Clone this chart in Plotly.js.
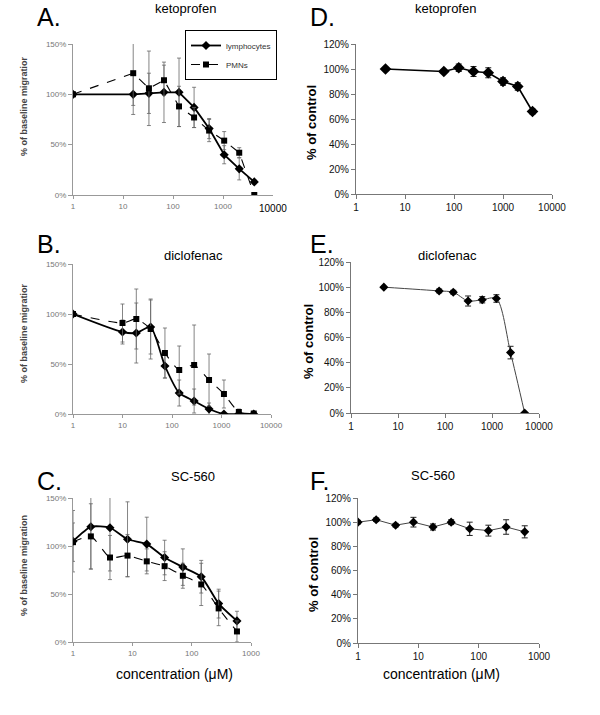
<!DOCTYPE html>
<html>
<head>
<meta charset="utf-8">
<script src="https://cdn.plot.ly/plotly-3.0.1.min.js"></script>
<style>
  body { margin: 0; background: #fff; }
  #fig { width: 600px; height: 715px; }
</style>
</head>
<body>
<div id="fig"></div>
<script>
// ketoprofen - migration (A)
var ketoConcA = [1, 16, 33, 66, 132, 264, 528, 1056, 2112, 4224];
var ketoLymph = [100, 100, 101, 102, 102, 87, 66, 40, 26, 13];
var ketoLymphErr = [0, 20, 20, 30, 34, 20, 10, 9, 11, 2];
var ketoPmn = [100, 121, 106, 114, 88, 77, 64, 54, 42, 0];
var ketoPmnErr = [0, 32, 37, 15, 20, 10, 11, 9, 5, 0];

// diclofenac - migration (B)
var dicloConcB = [1, 10, 19, 37, 72, 140, 280, 560, 1120, 2240, 4480];
var dicloLymph = [100, 82, 81, 87, 48, 21, 13, 5, 0, 0, 0];
var dicloLymphErr = [0, 12, 30, 27, 12, 13, 12, 6, 0, 0, 0];
var dicloPmn = [100, 91, 95, 85, 61, 44, 49, 34, 20, 2, 0.5];
var dicloPmnErr = [0, 19, 30, 30, 25, 24, 40, 26, 14, 3, 0];

// SC-560 - migration (C)
var scConc = [1, 2, 4.2, 8.3, 17.5, 35, 71, 145, 285, 580];
var scLymph = [105, 120, 119, 107, 102, 88, 78, 68, 40, 22];
var scLymphErr = [32, 44, 45, 39, 28, 18, 19, 17, 15, 10];
var scPmn = [104, 110, 88, 90, 84, 79, 69, 60, 35, 11];
var scPmnErr = [20, 34, 23, 22, 13, 15, 13, 22, 18, 11];

// viability (D, E, F)
var ketoConcD = [4, 62, 125, 250, 500, 1000, 2000, 4000];
var ketoViab = [100, 98, 101, 98, 97, 90, 86, 66];
var ketoViabErr = [1, 1.5, 3, 4, 4, 3, 3, 2];

var dicloConcE = [5, 75, 150, 310, 620, 1240, 2480, 4950];
var dicloViab = [100, 97, 96, 89, 90, 91, 48, 0];
var dicloViabErr = [0.5, 1.5, 1.5, 4, 2.5, 3, 5, 0];

var scViab = [100, 102, 97.5, 100, 96, 100, 94.5, 93, 96, 92];
var scViabErr = [1.5, 1.5, 1.5, 4, 2.5, 2, 5.5, 4.5, 6, 5];

var logTicks = [1, 10, 100, 1000, 10000];

function px(x) { return x / 600; }
function py(y) { return 1 - y / 715; }

function migLine(x, y, err, name, ax, dash, sym, shape, legend) {
    return {
        x: x, y: y, xaxis: 'x' + ax, yaxis: 'y' + ax,
        type: 'scatter', mode: 'lines+markers', name: name,
        showlegend: legend,
        line: { color: '#000', width: dash == 'solid' ? 1.8 : 1.1, dash: dash, shape: shape, smoothing: 0.6 },
        marker: { symbol: sym, size: sym == 'diamond' ? 7 : 6, color: '#000' },
        error_y: { type: 'data', array: err, visible: true, color: '#666', thickness: 0.8, width: 2 }
    };
}

function viabLine(x, y, err, ax, lw, lc, shape, msize) {
    return {
        x: x, y: y, xaxis: 'x' + ax, yaxis: 'y' + ax,
        type: 'scatter', mode: 'lines+markers', showlegend: false,
        line: { color: lc, width: lw, shape: shape, smoothing: 0.8 },
        marker: { symbol: 'diamond', size: msize, color: '#000' },
        error_y: { type: 'data', array: err, visible: true, color: '#222', thickness: 1, width: 3 }
    };
}

var data = [
    migLine(ketoConcA, ketoLymph, ketoLymphErr, 'lymphocytes', '', 'solid', 'diamond', 'linear', true),
    migLine(ketoConcA, ketoPmn, ketoPmnErr, 'PMNs', '', 'dash', 'square', 'linear', true),
    viabLine(ketoConcD, ketoViab, ketoViabErr, '2', 1.6, '#000', 'linear', 9),
    migLine(dicloConcB, dicloLymph, dicloLymphErr, 'lymphocytes', '3', 'solid', 'diamond', 'spline', false),
    migLine(dicloConcB, dicloPmn, dicloPmnErr, 'PMNs', '3', 'dash', 'square', 'spline', false),
    viabLine(dicloConcE, dicloViab, dicloViabErr, '4', 1, '#444', 'spline', 7),
    migLine(scConc, scLymph, scLymphErr, 'lymphocytes', '5', 'solid', 'diamond', 'spline', false),
    migLine(scConc, scPmn, scPmnErr, 'PMNs', '5', 'dash', 'square', 'spline', false),
    viabLine(scConc, scViab, scViabErr, '6', 1, '#444', 'linear', 7)
];

function leftX(x0, x1, anchor, hi, ticks) {
    return {
        domain: [px(x0), px(x1)], anchor: anchor, type: 'log', range: [0, hi],
        tickvals: ticks, ticktext: ticks.map(String),
        showline: true, linecolor: '#999', linewidth: 1, ticks: 'outside', ticklen: 3, tickcolor: '#999',
        showgrid: false, zeroline: false,
        tickfont: { family: 'Liberation Sans, Arial', size: 8, color: '#777' }
    };
}
function leftY(y0, y1, anchor) {
    return {
        domain: [py(y1), py(y0)], anchor: anchor, range: [0, 150], dtick: 50, ticksuffix: '%',
        showline: true, linecolor: '#999', linewidth: 1, ticks: 'outside', ticklen: 4, tickcolor: '#999',
        showgrid: false, zeroline: false,
        tickfont: { family: 'Liberation Sans, Arial', size: 8, color: '#777' }
    };
}
function rightX(x0, x1, anchor, hi, ticks) {
    return {
        domain: [px(x0), px(x1)], anchor: anchor, type: 'log', range: [0, hi],
        tickvals: ticks, ticktext: ticks.map(String),
        showline: true, linecolor: '#777', linewidth: 1, ticks: 'outside', ticklen: 4, tickcolor: '#777',
        showgrid: false, zeroline: false,
        tickfont: { family: 'Liberation Sans, Arial', size: 10, color: '#111' }
    };
}
function rightY(y0, y1, anchor) {
    return {
        domain: [py(y1), py(y0)], anchor: anchor, range: [0, 120], dtick: 20, ticksuffix: '%',
        showline: true, linecolor: '#777', linewidth: 1, ticks: 'outside', ticklen: 4, tickcolor: '#777',
        showgrid: false, zeroline: false,
        tickfont: { family: 'Liberation Sans, Arial', size: 10, color: '#111' }
    };
}

var annots = [];
function note(text, x, y, size, opts) {
    var a = {
        text: text, xref: 'paper', yref: 'paper', x: px(x), y: py(y),
        showarrow: false, xanchor: 'center', yanchor: 'middle',
        font: { family: 'Liberation Sans, Arial', size: size, color: '#000' }
    };
    for (var k in opts) { a[k] = opts[k]; }
    annots.push(a);
}

// panel letters
note('A.', 35, 17, 25, { xanchor: 'left' });
note('D.', 308, 17, 25, { xanchor: 'left' });
note('B.', 35, 244, 25, { xanchor: 'left' });
note('E.', 308, 244, 25, { xanchor: 'left' });
note('C.', 35, 481, 25, { xanchor: 'left' });
note('F.', 308, 481, 25, { xanchor: 'left' });
// drug titles
note('ketoprofen', 185, 8, 13);
note('ketoprofen', 445, 8, 13);
note('diclofenac', 193, 255, 13);
note('diclofenac', 447, 255, 13);
note('SC-560', 193, 476, 13);
note('SC-560', 433, 475, 13);
// axis titles
var bold9 = { family: 'Liberation Sans, Arial', size: 9, color: '#444' };
note('<b>% of baseline migratior</b>', 24, 106, 9, { textangle: -90, font: bold9 });
note('<b>% of baseline migratior</b>', 24, 333, 9, { textangle: -90, font: bold9 });
note('<b>% of baseline migration</b>', 24, 566, 9, { textangle: -90, font: bold9 });
note('<b>% of control</b>', 311, 123, 13, { textangle: -90 });
note('<b>% of control</b>', 308, 342, 13, { textangle: -90 });
note('<b>% of control</b>', 313, 574, 13, { textangle: -90 });
note('concentration (μM)', 174, 674, 14);
note('concentration (μM)', 441, 674, 14);
note('10000', 273, 208, 10);

var layout = {
    width: 600, height: 715,
    margin: { l: 0, r: 0, t: 0, b: 0 },
    paper_bgcolor: '#fff', plot_bgcolor: '#fff',
    font: { family: 'Liberation Sans, Arial' },
    xaxis: leftX(73, 273, 'y', 4, [1, 10, 100, 1000]),
    yaxis: leftY(44, 195, 'x'),
    xaxis2: rightX(356, 552, 'y2', 4, logTicks),
    yaxis2: rightY(44, 194, 'x2'),
    xaxis3: leftX(73, 271, 'y3', 4, logTicks),
    yaxis3: leftY(264, 414, 'x3'),
    xaxis4: rightX(351, 539, 'y4', 4, logTicks),
    yaxis4: rightY(262, 413, 'x4'),
    xaxis5: leftX(73, 251, 'y5', 3, [1, 10, 100, 1000]),
    yaxis5: leftY(498, 642, 'x5'),
    xaxis6: rightX(358, 539, 'y6', 3, [1, 10, 100, 1000]),
    yaxis6: rightY(498, 643, 'x6'),
    showlegend: true,
    legend: {
        x: px(185), y: py(30), xanchor: 'left', yanchor: 'top',
        bgcolor: '#fff', bordercolor: '#000', borderwidth: 1,
        font: { family: 'Liberation Sans, Arial', size: 8, color: '#333' },
        itemwidth: 30, tracegroupgap: 0
    },
    annotations: annots
};

Plotly.newPlot('fig', data, layout, { staticPlot: true });
</script>
</body>
</html>
